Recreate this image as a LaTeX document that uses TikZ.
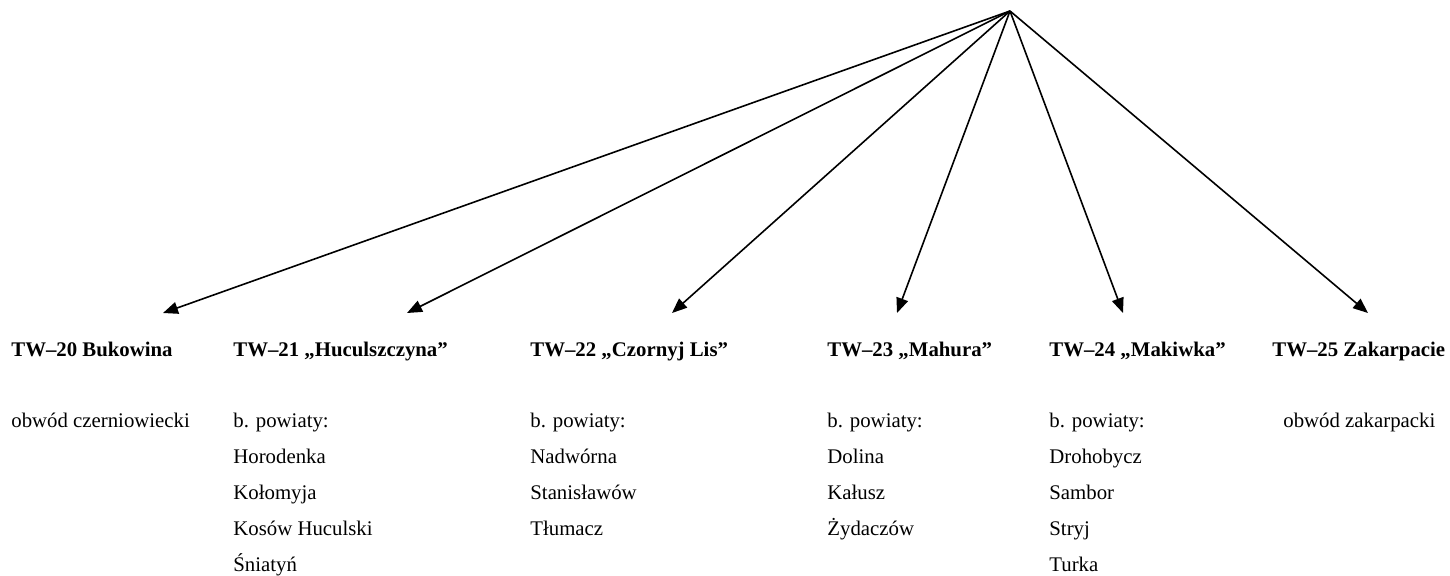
\documentclass[tikz,border=0pt]{standalone}
\usepackage{fontspec}
\setmainfont{Liberation Serif}
\usetikzlibrary{arrows.meta}

\tikzset{
  unit/.style={inner sep=0pt, anchor=base west, font=\fontsize{10.4}{18}\selectfont},
  head/.style={unit, font=\fontsize{10.4}{18}\selectfont\bfseries},
  arr/.style={-{Triangle[length=7.5pt,width=6pt]}, line width=0.8pt},
}

\begin{document}
\begin{tikzpicture}[x=0.5pt,y=-0.5pt]
\useasboundingbox (0,0) rectangle (1450,575);
\coordinate (top) at (1010,11);

% headings
\node[head] (h20) at (11,356) {TW–20 Bukowina};
\node[head] (h21) at (233,356) {TW–21 „Huculszczyna”};
\node[head] (h22) at (530,356) {TW–22 „Czornyj Lis”};
\node[head] (h23) at (827,356) {TW–23 „Mahura”};
\node[head] (h24) at (1049,356) {TW–24 „Makiwka”};
\node[head] (h25) at (1272,356) {TW–25 Zakarpacie};

% arrows
\foreach \n/\x in {20/163,21/407,22/672,23/897,24/1123,25/1368}
  \coordinate (t\n) at (\x,313);
\foreach \n in {20,...,25}
  \draw[arr] (top) -- (t\n);

% lists
\node[unit] (d20) at (11,427) {obwód czerniowiecki};
\foreach \name [count=\i from 0] in {b. powiaty:,Horodenka,Kołomyja,Kosów Huculski,Śniatyń}
  \node[unit] (d21-\i) at (233,427+36*\i) {\name};
\foreach \name [count=\i from 0] in {b. powiaty:,Nadwórna,Stanisławów,Tłumacz}
  \node[unit] (d22-\i) at (530,427+36*\i) {\name};
\foreach \name [count=\i from 0] in {b. powiaty:,Dolina,Kałusz,Żydaczów}
  \node[unit] (d23-\i) at (827,427+36*\i) {\name};
\foreach \name [count=\i from 0] in {b. powiaty:,Drohobycz,Sambor,Stryj,Turka}
  \node[unit] (d24-\i) at (1049,427+36*\i) {\name};
\node[unit] (d25) at (1283,427) {obwód zakarpacki};
\end{tikzpicture}
\end{document}
